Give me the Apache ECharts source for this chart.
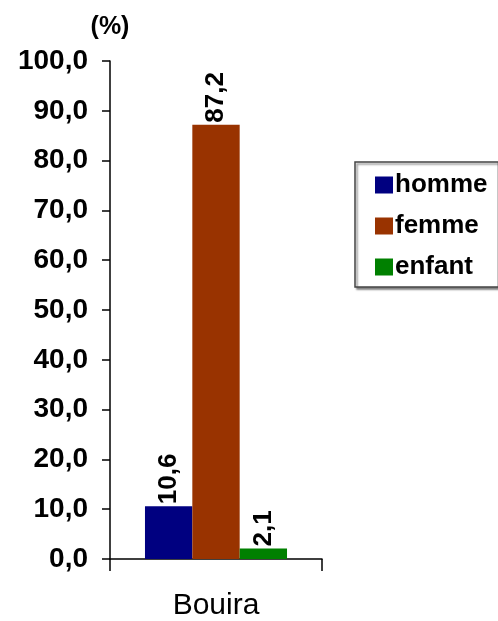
<!DOCTYPE html>
<html><head><meta charset="utf-8">
<script src="https://cdn.jsdelivr.net/npm/echarts@6/dist/echarts.min.js"></script>
<style>html,body{margin:0;padding:0;background:#fff}#c{width:498px;height:621px}</style>
</head><body><div id="c"></div>
<script>
const categories = ['Bouira'];
const seriesNames = ['homme', 'femme', 'enfant'];
const homme = [10.6];
const femme = [87.2];
const enfant = [2.1];
const colors = ['#000080', '#993300', '#008000'];
const FONT = '"Liberation Sans", Arial, sans-serif';
const fmt = v => v.toFixed(1).replace('.', ',');
const chart = echarts.init(document.getElementById('c'));
const mk = (name, data, color) => ({
  name, type: 'bar', data, barGap: '0%', barCategoryGap: '33%',
  itemStyle: { color },
  label: { show: true, position: 'top', rotate: 90, align: 'left', verticalAlign: 'middle', distance: 2,
    formatter: p => fmt(p.value), fontFamily: FONT, fontWeight: 'bold', fontSize: 26, color: '#000' }
});
chart.setOption({
  animation: false,
  grid: { left: 110, right: 176, top: 61, bottom: 60 },
  legend: {
    orient: 'vertical', left: 355, top: 162,
    padding: [10, 11, 7, 20], itemGap: 15, itemWidth: 18, itemHeight: 17, icon: 'rect',
    borderColor: '#444', borderWidth: 1.5,
    shadowColor: 'rgba(0,0,0,0.45)', shadowOffsetX: 2, shadowOffsetY: 2, shadowBlur: 2,
    backgroundColor: '#fff',
    textStyle: { fontFamily: FONT, fontWeight: 'bold', fontSize: 26, color: '#000', padding: [0,0,0,-3] },
    data: seriesNames
  },
  xAxis: {
    type: 'category', data: categories,
    axisLine: { lineStyle: { color: '#000', width: 1.5 } },
    axisTick: { show: true, length: 12, lineStyle: { color: '#000', width: 1.5 } },
    axisLabel: { margin: 32, fontFamily: FONT, fontSize: 30, color: '#000' }
  },
  yAxis: {
    type: 'value', min: 0, max: 100, interval: 10,
    name: '(%)', nameLocation: 'end', nameGap: 34,
    nameTextStyle: { fontFamily: FONT, fontWeight: 'bold', fontSize: 25, color: '#000', align: 'center', verticalAlign: 'middle' },
    splitLine: { show: false },
    axisLine: { show: true, lineStyle: { color: '#000', width: 1.5 } },
    axisTick: { show: true, length: 8, lineStyle: { color: '#000', width: 1.5 } },
    axisLabel: { margin: 22, formatter: v => fmt(v), fontFamily: FONT, fontWeight: 'bold', fontSize: 28, color: '#000' }
  },
  series: [mk(seriesNames[0], homme, colors[0]), mk(seriesNames[1], femme, colors[1]), mk(seriesNames[2], enfant, colors[2])]
});
</script></body></html>
